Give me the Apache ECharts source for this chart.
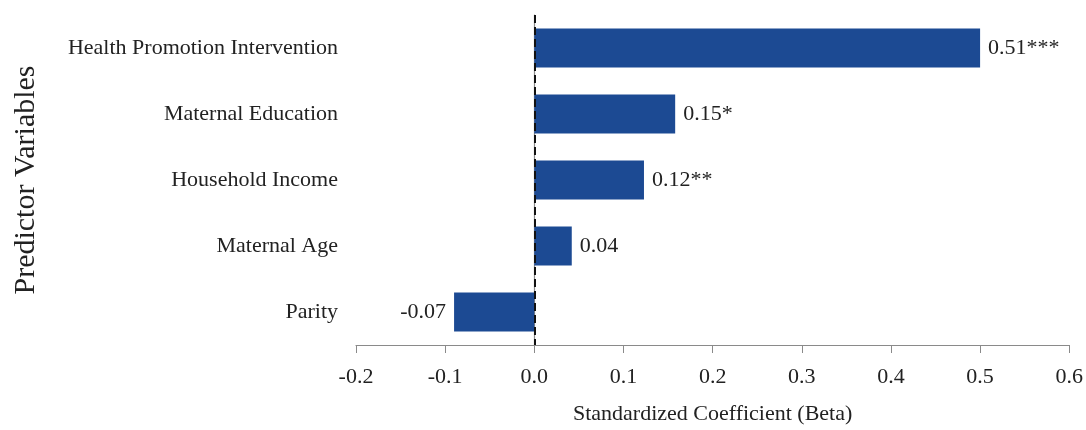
<!DOCTYPE html>
<html>
<head>
<meta charset="utf-8">
<script src="https://cdn.jsdelivr.net/npm/echarts@6/dist/echarts.min.js"></script>
<style>html,body{margin:0;padding:0;background:#fff;}#c{width:1086px;height:430px;}</style>
</head>
<body>
<div id="c"></div>
<script>
const categories = ['Health Promotion Intervention', 'Maternal Education', 'Household Income', 'Maternal Age', 'Parity'];
const betaValues = [0.50, 0.158, 0.123, 0.042, -0.090];
const valueLabels = ['0.51***', '0.15*', '0.12**', '0.04', '-0.07'];
const xTicks = [-0.2, -0.1, 0.0, 0.1, 0.2, 0.3, 0.4, 0.5, 0.6];

const FONT = 'Liberation Serif';
const chart = echarts.init(document.getElementById('c'));
chart.setOption({
  animation: false,
  backgroundColor: '#ffffff',
  grid: { left: 356, right: 15, top: 15, bottom: 85 },
  xAxis: {
    type: 'value',
    min: xTicks[0], max: xTicks[xTicks.length - 1], interval: 0.1,
    name: 'Standardized Coefficient (Beta)',
    nameLocation: 'middle', nameGap: 58,
    nameTextStyle: { fontFamily: FONT, fontSize: 22, color: '#222' },
    axisLine: { show: true, lineStyle: { color: '#8a8a8a', width: 1.2 } },
    axisTick: { show: true, length: 8, lineStyle: { color: '#8a8a8a' } },
    splitLine: { show: false },
    axisLabel: { fontFamily: FONT, fontSize: 22, color: '#222', margin: 21,
      formatter: v => v.toFixed(1) }
  },
  yAxis: {
    type: 'category', data: categories, inverse: true,
    name: 'Predictor Variables', nameLocation: 'middle', nameGap: 315,
    nameRotate: 90,
    nameTextStyle: { fontFamily: FONT, fontSize: 30, color: '#222' },
    axisLine: { show: true, lineStyle: { color: '#8a8a8a', width: 1.2 } },
    axisTick: { show: false },
    axisLabel: { fontFamily: FONT, fontSize: 22, color: '#222', margin: 18 }
  },
  series: [{
    type: 'bar',
    barWidth: 39,
    data: betaValues.map((v, i) => ({
      value: v,
      label: { show: true, position: v < 0 ? 'left' : 'right', distance: 8,
        formatter: valueLabels[i], fontFamily: FONT, fontSize: 22, color: '#222' }
    })),
    itemStyle: { color: '#1c4a93' },
    markLine: {
      silent: true, symbol: ['none', 'none'],
      label: { show: false },
      lineStyle: { color: '#111', type: [8, 4], width: 2 },
      data: [{ xAxis: 0 }]
    }
  }]
});
</script>
</body>
</html>
